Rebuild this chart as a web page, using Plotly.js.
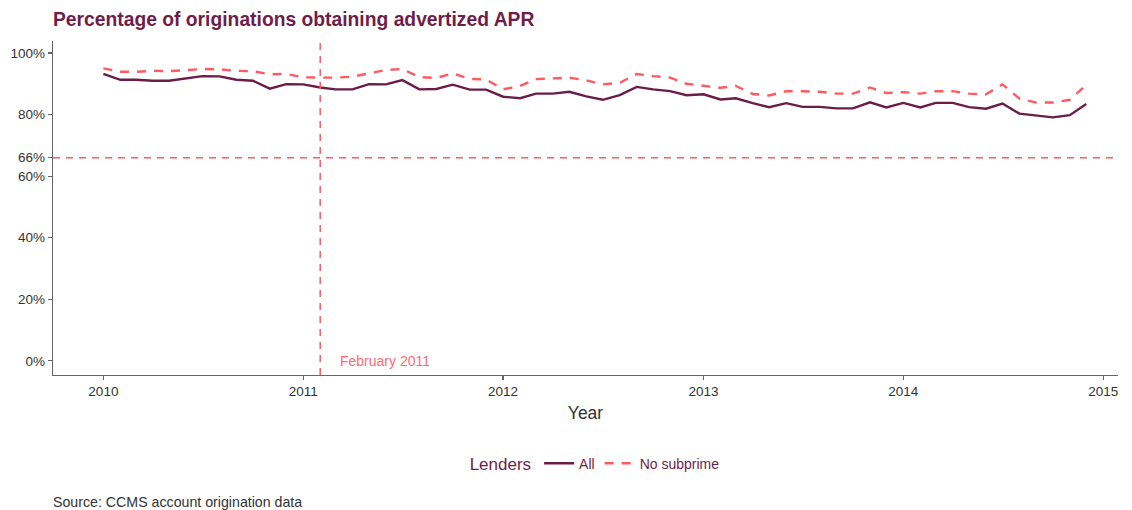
<!DOCTYPE html>
<html>
<head>
<meta charset="utf-8">
<script src="https://cdn.plot.ly/plotly-3.0.1.min.js"></script>
<style>
html,body{margin:0;padding:0;background:#fff;}
#chart{width:1132px;height:510px;}
</style>
</head>
<body>
<div id="chart"></div>
<script>
// Monthly series, Jan 2010 - Dec 2014
var startYear = 2010;
var nMonths = 60;
var months = [];
for (var i = 0; i < nMonths; i++) {
  var y = startYear + Math.floor(i / 12);
  var m = (i % 12) + 1;
  months.push(y + '-' + (m < 10 ? '0' + m : m) + '-01');
}

var allLenders = [
  93.2, 91.3, 91.3, 91.0, 91.0, 91.8, 92.5, 92.4, 91.3, 91.0, 88.4, 89.9,
  89.8, 88.8, 88.2, 88.2, 89.9, 89.8, 91.2, 88.2, 88.3, 89.7, 88.1, 88.1,
  85.8, 85.3, 86.8, 86.8, 87.4, 85.9, 84.8, 86.3, 89.0, 88.2, 87.6, 86.3,
  86.6, 84.9, 85.3, 83.7, 82.4, 83.7, 82.5, 82.5, 82.0, 82.0, 84.0, 82.3,
  83.8, 82.3, 83.8, 83.8, 82.4, 81.9, 83.6, 80.3, 79.7, 79.1, 79.8, 83.4
];
var noSubprime = [
  95.0, 93.9, 93.9, 94.2, 94.1, 94.4, 94.8, 94.7, 94.2, 94.1, 93.1, 93.2,
  92.1, 92.0, 92.0, 92.3, 93.3, 94.5, 94.8, 92.2, 91.9, 93.4, 91.6, 91.4,
  88.2, 89.3, 91.5, 91.7, 92.0, 91.1, 89.8, 90.3, 93.2, 92.5, 92.0, 90.0,
  89.3, 88.7, 89.3, 86.7, 86.2, 87.6, 87.6, 87.4, 86.8, 86.8, 88.8, 87.0,
  87.3, 86.8, 87.6, 87.6, 86.8, 86.6, 89.8, 85.2, 83.9, 83.9, 84.8, 89.6
];

var seriesNames = ['All', 'No subprime'];
var yTickVals = [0, 20, 40, 60, 66, 80, 100];
var yTickText = ['0%', '20%', '40%', '60%', '66%', '80%', '100%'];
var xTickVals = ['2010-01-01', '2011-01-01', '2012-01-01', '2013-01-01', '2014-01-01', '2015-01-01'];
var xTickText = ['2010', '2011', '2012', '2013', '2014', '2015'];
var refDate = '2011-02-01';
var refDateLabel = 'February 2011';
var refLevel = 66;

var maroon = '#6b1d47';
var coral = '#ff5a5f';
var font = 'Liberation Sans, Arial, sans-serif';

var traces = [
  {x: months, y: allLenders, name: seriesNames[0], type: 'scatter', mode: 'lines',
   line: {color: maroon, width: 2.4}},
  {x: months, y: noSubprime, name: seriesNames[1], type: 'scatter', mode: 'lines',
   line: {color: coral, width: 2.4, dash: '9px,8px'}}
];

var layout = {
  width: 1132, height: 510,
  margin: {l: 53, r: 14, t: 41, b: 135},
  paper_bgcolor: '#fff', plot_bgcolor: '#fff',
  font: {family: font, color: '#333', size: 14},
  title: {text: '<b>Percentage of originations obtaining advertized APR</b>',
          font: {family: font, size: 19.3, color: '#6e1e4a'},
          xref: 'container', x: 0.0468, xanchor: 'left',
          yref: 'container', y: 0.963, yanchor: 'middle'},
  xaxis: {type: 'date', range: ['2009-10-01', '2015-01-28'],
          tickvals: xTickVals, ticktext: xTickText,
          showgrid: false, zeroline: false, showline: true, linecolor: '#666', linewidth: 1.2,
          ticks: 'outside', ticklen: 4, tickcolor: '#666', tickwidth: 1.2,
          tickfont: {size: 13.5, color: '#333'},
          title: {text: 'Year', font: {size: 17.5, color: '#333'}, standoff: 8}},
  yaxis: {range: [-4.6, 103.9],
          tickvals: yTickVals, ticktext: yTickText,
          showgrid: false, zeroline: false, showline: true, linecolor: '#666', linewidth: 1.2,
          ticks: 'outside', ticklen: 4, tickcolor: '#666', tickwidth: 1.2,
          tickfont: {size: 13.5, color: '#333'}},
  showlegend: true,
  legend: {orientation: 'h', x: 0.51, xanchor: 'center', y: -0.267, yanchor: 'middle',
           font: {size: 14, color: '#6e1e4a'},
           title: {text: 'Lenders', font: {size: 17, color: '#6e1e4a'}},
           itemwidth: 30},
  shapes: [
    {type: 'line', xref: 'x', yref: 'paper', x0: refDate, x1: refDate, y0: 0, y1: 1,
     line: {color: coral, width: 1.5, dash: '7px,6px'}},
    {type: 'line', xref: 'paper', yref: 'y', x0: 0, x1: 1, y0: refLevel, y1: refLevel,
     line: {color: coral, width: 1.5, dash: '7px,6px'}}
  ],
  annotations: [
    {xref: 'x', yref: 'y', x: refDate, y: 0, text: refDateLabel, showarrow: false,
     xanchor: 'left', xshift: 18, yanchor: 'middle',
     font: {size: 14, color: '#ff6b6f'}},
    {xref: 'paper', yref: 'paper', x: 0, y: -0.38, text: 'Source: CCMS account origination data',
     showarrow: false, xanchor: 'left', yanchor: 'middle', xshift: -2,
     font: {size: 14.2, color: '#333'}}
  ]
};

Plotly.newPlot('chart', traces, layout, {displayModeBar: false, staticPlot: true});
</script>
</body>
</html>
